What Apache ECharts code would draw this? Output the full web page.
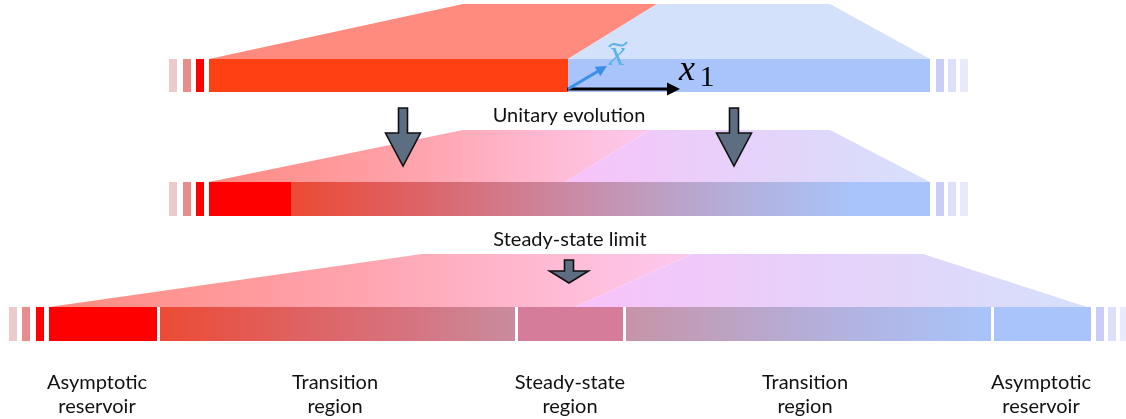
<!DOCTYPE html>
<html><head><meta charset="utf-8">
<script src="https://cdn.jsdelivr.net/npm/echarts@6/dist/echarts.min.js"></script>
<style>html,body{margin:0;padding:0;background:#fff}#c{width:1126px;height:419px}</style>
</head><body><div id="c"></div>
<script>
// ---------- data (diagram units along x; rows are the three stages) ----------
const stages = ['Initial state', 'Unitary evolution', 'Steady-state limit'];
// bar segments: [stageIndex, xStart, xEnd, kind]
const barSegments = [
  [0,169,177,'stubL3'],[0,183,191,'stubL2'],[0,196,204,'stubL1'],[0,209,568,'hot0'],[0,568,930,'cold'],[0,936,944,'stubR1'],[0,948,956,'stubR2'],[0,960,968,'stubR3'],
  [1,169,177,'stubL3'],[1,183,191,'stubL2'],[1,196,204,'stubL1'],[1,209,291,'hot'],[1,291,849,'grad2'],[1,849,930,'cold'],[1,936,944,'stubR1'],[1,948,956,'stubR2'],[1,960,968,'stubR3'],
  [2,9,17,'stubL3'],[2,22,30,'stubL2'],[2,36,44,'stubL1'],[2,49,157,'hot'],[2,160,515,'grad3a'],[2,518,623,'steady'],[2,626,991,'grad3b'],[2,994,1091,'cold'],[2,1096,1104,'stubR1'],[2,1108,1116,'stubR2'],[2,1120,1128,'stubR3']
];
// light cones (trapezoids) above the bars: [stageIndex, bottomLeft, topLeft, topRight, bottomRight, kind]
const cones = [
  [0,[209,59],[463,4],[657,4],[568,59],'coneHot0'],
  [0,[568,59],[657,4],[830,4],[930,59],'coneCold0'],
  [1,[209,182],[463,130],[650,130],[565,182],'coneHot'],
  [1,[565,182],[650,130],[830,130],[930,182],'coneCold'],
  [2,[49,307],[422,254],[692,254],[575,307],'coneHot'],
  [2,[575,307],[692,254],[923,254],[1087,307],'coneCold']
];
// block arrows: [xCenter, yTop, yTip]
const blockArrows = [[403,108,166],[734,108,166],[569,260,283]];
// vectors: [x0, y0, x1, y1, kind]
const vectors = [[567,89,680,89,'x1'],[568,89,607,66,'xt']];
const stageLabels = [['Unitary evolution',569,116],['Steady-state limit',570,240]];
const regionLabels = [['Asymptotic\nreservoir',97,395],['Transition\nregion',335,395],['Steady-state\nregion',570,395],['Transition\nregion',805,395],['Asymptotic\nreservoir',1041,395]];
// math symbols: [text, x, y]
const mathLabels = [['x',617,56],['x',687,71],['1',707,78]];

// ---------- styles ----------
const ROW_Y = [[59,92],[182,216],[307,341]];
const SOLID = {stubL3:'#eccbcb',stubL2:'#e98c8c',stubL1:'#ff0000',stubR1:'#c9cdf8',stubR2:'#dde0fb',stubR3:'#e8eafc',
  hot0:'#ff4013',hot:'#ff0000',cold:'#a8c4fb',steady:'#d67c9b',coneHot0:'#ff8b7e',coneCold0:'#d3e1fb'};
const GRAD = {
  grad2:[[0,'#ec4a33'],[0.2,'#df5f60'],[0.48,'#cc87a0'],[0.75,'#b7aad4'],[1,'#a9c3f8']],
  grad3a:[[0,'#ec4b35'],[0.4,'#df6262'],[0.7,'#d6737f'],[1,'#c98c9e']],
  grad3b:[[0,'#c794a8'],[0.5,'#b5aed8'],[1,'#a8c4fb']],
  coneHot:[[0,'#ff8a80'],[0.45,'#ffa2ab'],[0.8,'#ffbcd6'],[1,'#fcc8ee']],
  coneCold:[[0,'#f8c2f9'],[0.5,'#e6d2fa'],[1,'#d5e0fb']]
};
function fillFor(kind, xa, xb){
  if (GRAD[kind]) return new echarts.graphic.LinearGradient(xa,0,xb,0,GRAD[kind].map(s=>({offset:s[0],color:s[1]})),true);
  return SOLID[kind];
}
const LABEL_FONT = '"Lato", "Open Sans", sans-serif';
const MATH_STYLE = [
  {font:'italic 36px "Liberation Serif", serif',fill:'#5ab2e8'},
  {font:'italic 36px "Liberation Serif", serif',fill:'#000'},
  {font:'30px "Liberation Serif", serif',fill:'#000'}
];

const chart = echarts.init(document.getElementById('c'));
chart.setOption({
  animation:false,
  grid:{left:0,right:0,top:0,bottom:0},
  xAxis:{type:'value',min:0,max:1126,show:false},
  yAxis:{type:'value',min:0,max:419,inverse:true,show:false},
  series:[
    { type:'custom', name:'cones', data:cones.map((c,i)=>[c[1][0],c[4][0],i]), encode:{x:[0,1]},
      renderItem:(params,api)=>{
        const c = cones[params.dataIndex];
        const pts = [c[1],c[2],c[3],c[4]].map(p=>api.coord(p));
        const xs = pts.map(p=>p[0]);
        return {type:'polygon',shape:{points:pts},style:{fill:fillFor(c[5],Math.min(...xs),Math.max(...xs))}};
      }},
    { type:'custom', name:'bars', data:barSegments.map(s=>[s[1],s[2],s[0]]), encode:{x:[0,1]},
      renderItem:(params,api)=>{
        const s = barSegments[params.dataIndex];
        const ry = ROW_Y[s[0]];
        const p0 = api.coord([s[1],ry[0]]), p1 = api.coord([s[2],ry[1]]);
        return {type:'rect',shape:{x:p0[0],y:p0[1],width:p1[0]-p0[0],height:p1[1]-p0[1]},style:{fill:fillFor(s[3],p0[0],p1[0])}};
      }},
    { type:'custom', name:'arrows', data:blockArrows.map(a=>[a[0],a[1],a[2]]), encode:{x:0,y:[1,2]},
      renderItem:(params,api)=>{
        const a = blockArrows[params.dataIndex];
        const big = a[2]-a[1] > 40;
        const top = api.coord([a[0],a[1]]), tip = api.coord([a[0],a[2]]);
        const cx = top[0], sh = 4.5, hh = big?17.5:19.5;
        const hy = big ? top[1]+25 : top[1]+11;
        const pts = [[cx-sh,top[1]],[cx+sh,top[1]],[cx+sh,hy],[cx+hh,hy],[cx,tip[1]],[cx-hh,hy],[cx-sh,hy]];
        return {type:'polygon',shape:{points:pts},style:{fill:'#5d6d82',stroke:'#111',lineWidth:1.6,lineJoin:'miter'}};
      }},
    { type:'custom', name:'vectors', data:vectors.map(v=>[v[0],v[1],v[2],v[3]]), encode:{x:[0,2],y:[1,3]},
      renderItem:(params,api)=>{
        const v = vectors[params.dataIndex];
        const p0 = api.coord([v[0],v[1]]), p1 = api.coord([v[2],v[3]]);
        const col = v[4]==='x1' ? '#000' : '#3b8fe8';
        const hl = v[4]==='x1' ? 13 : 11, hw = v[4]==='x1' ? 6.5 : 5.5;
        const dx=p1[0]-p0[0], dy=p1[1]-p0[1], L=Math.hypot(dx,dy), ux=dx/L, uy=dy/L;
        const bx=p1[0]-ux*hl, by=p1[1]-uy*hl;
        return {type:'group',children:[
          {type:'line',shape:{x1:p0[0],y1:p0[1],x2:bx+ux*2,y2:by+uy*2},style:{stroke:col,lineWidth:3}},
          {type:'polygon',shape:{points:[[p1[0],p1[1]],[bx-uy*hw,by+ux*hw],[bx+uy*hw,by-ux*hw]]},style:{fill:col}}
        ]};
      }},
    { type:'custom', name:'labels', data:stageLabels.concat(regionLabels).map(l=>[l[1],l[2]]), encode:{x:0,y:1},
      renderItem:(params,api)=>{
        const all = stageLabels.concat(regionLabels);
        const l = all[params.dataIndex];
        const p = api.coord([l[1],l[2]]);
        return {type:'text',x:p[0],y:p[1],style:{text:l[0],font:'20px '+LABEL_FONT,fill:'#111',align:'center',verticalAlign:'middle',lineHeight:24}};
      }},
    { type:'custom', name:'math', data:mathLabels.map(m=>[m[1],m[2]]), encode:{x:0,y:1},
      renderItem:(params,api)=>{
        const m = mathLabels[params.dataIndex];
        const p = api.coord([m[1],m[2]]);
        const txt = {type:'text',x:p[0],y:p[1],style:Object.assign({text:m[0],align:'center',verticalAlign:'middle'},MATH_STYLE[params.dataIndex])};
        if (params.dataIndex !== 0) return txt;
        // tilde accent over the first symbol
        return {type:'group',children:[txt,
          {type:'bezierCurve',shape:{x1:p[0]-8,y1:p[1]-9,cpx1:p[0]-3,cpy1:p[1]-17,cpx2:p[0]+4,cpy2:p[1]-5,x2:p[0]+10,y2:p[1]-14},style:{stroke:'#5ab2e8',lineWidth:2,fill:null}}
        ]};
      }}
  ]
});
</script></body></html>
